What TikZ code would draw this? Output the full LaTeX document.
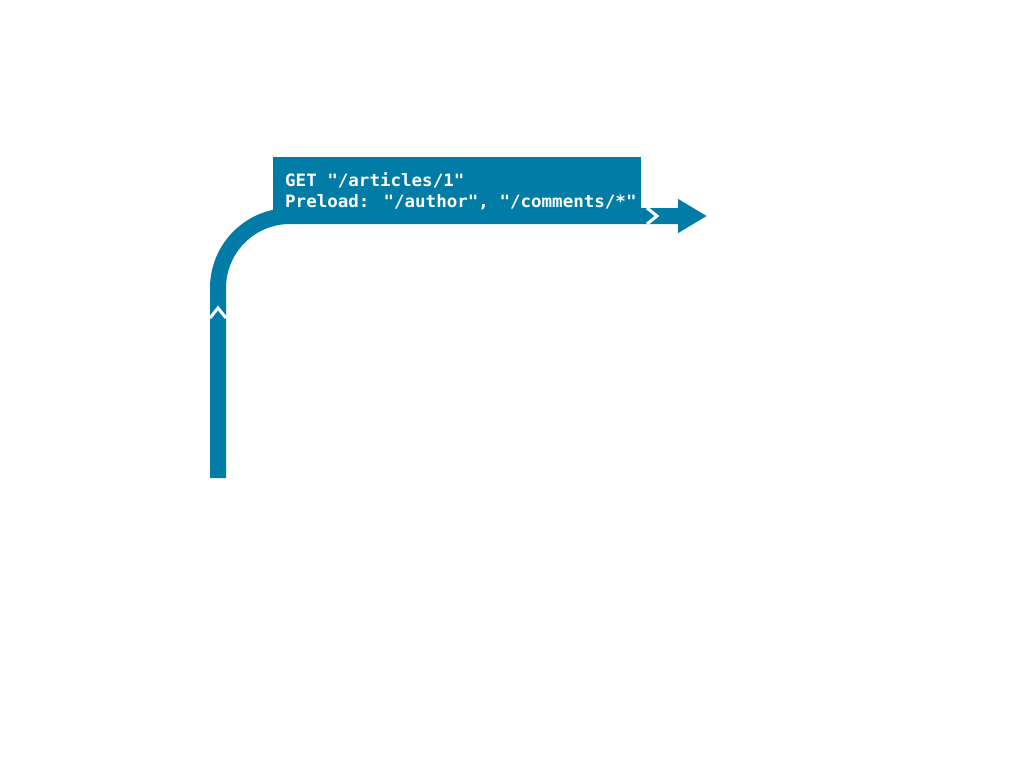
\documentclass[tikz,border=0pt]{standalone}
\usepackage{fontspec}
\newfontfamily\reqfont[FakeStretch=1.03]{DejaVu Sans Mono}
\usetikzlibrary{arrows.meta}
\definecolor{flow}{RGB}{0,124,166}
\begin{document}
\begin{tikzpicture}[x=1pt,y=-1pt,>={Triangle[width=32pt,length=29pt]}]
\tikzstyle{pipe}=[draw=flow,line width=16pt,rounded corners=72pt]
\tikzstyle{cut}=[draw=white,line width=3pt]
\tikzstyle{reqbox}=[fill=flow,minimum width=368pt,minimum height=59pt,inner sep=0pt,anchor=north west]
\tikzstyle{reqtext}=[text=white,font=\reqfont\bfseries\fontsize{17pt}{21.7pt}\selectfont,align=left,inner sep=0pt,anchor=north west]
\useasboundingbox[fill=white] (0,0) rectangle (1024,780);
\coordinate (src) at (218,478);
\coordinate (dst) at (707,216);
\node[reqbox] (req) at (273,157) {};
\draw[pipe,->] (src) |- (dst);
\node[reqtext] (reqtxt) at (285,172) {GET "/articles/1"\\Preload: "/author", "/comments/*"};
\draw[cut] (210,318) -- (218,308) -- (226,318);
\draw[cut] (647,208) -- (657,216) -- (647,224);
\end{tikzpicture}
\end{document}
